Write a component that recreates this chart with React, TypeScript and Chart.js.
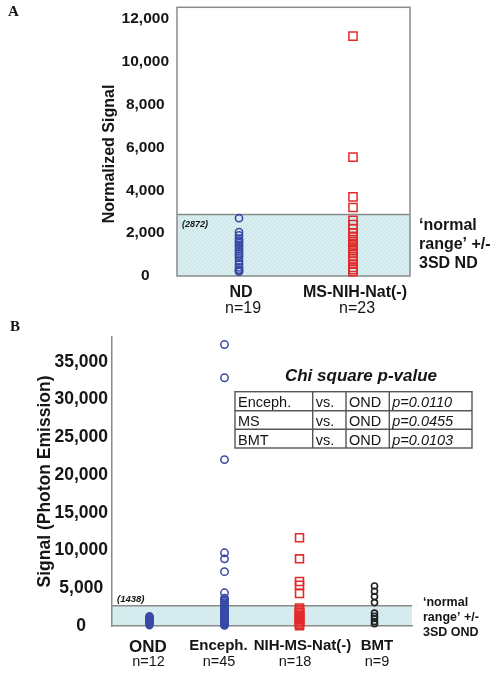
import React, { useEffect, useRef } from 'react';
import { Chart, registerables } from 'chart.js';

Chart.register(...registerables);

// ---------- data ----------
const CATEGORIES_A = ['ND', 'MS-NIH-Nat(-)'];
const N_LABELS_A = ['n=19', 'n=23'];
const ND_VALUES = [2700, 2050, 1900, 1750, 1650, 1550, 1450, 1350, 1250, 1150, 1050, 950, 850, 700, 550, 400, 300, 250, 200];
const MS_VALUES_A = [11200, 5550, 3700, 3200, 2600, 2400, 2200, 2000, 1850, 1700, 1600, 1500, 1400, 1300, 1200, 1050, 900, 800, 700, 550, 400, 300, 200];
const Y_TICKS_A = [0, 2000, 4000, 6000, 8000, 10000, 12000];
const Y_MAX_A = 12550;
const BAND_A = 2872;
const BAND_LABEL_A = '(2872)';
const RANGE_TEXT_A = ['\u2018normal', 'range\u2019 +/-', '3SD ND'];

const CATEGORIES_B = ['OND', 'Enceph.', 'NIH-MS-Nat(-)', 'BMT'];
const N_LABELS_B = ['n=12', 'n=45', 'n=18', 'n=9'];
const OND_VALUES = [1300, 1200, 1100, 1000, 900, 800, 700, 600, 500, 400, 250, 100];
const ENCEPH_VALUES = [37300, 32900, 22050, 9700, 8900, 7200, 4400,
  3700, 3500, 3300, 3100, 2900, 2700, 2500, 2400, 2300, 2200, 2100, 2000,
  1900, 1800, 1700, 1600, 1500, 1400, 1300, 1200, 1100, 1000, 950, 900,
  850, 800, 700, 600, 550, 500, 450, 400, 350, 300, 250, 200, 150, 100];
const MS_VALUES_B = [11700, 8900, 5900, 5400, 4300, 2400, 2200, 2000, 1800, 1600, 1400, 1200, 1000, 800, 600, 400, 200, 50];
const BMT_VALUES = [5300, 4600, 3900, 3100, 1700, 1300, 1000, 600, 300];
const Y_TICKS_B = [0, 5000, 10000, 15000, 20000, 25000, 30000, 35000];
const Y_MAX_B = 38300;
const BAND_B = 2700;
const BAND_LABEL_B = '(1438)';
const RANGE_TEXT_B = ['\u2018normal', 'range\u2019 +/-', '3SD OND'];
const CHI_TITLE = 'Chi square p-value';
const CHI_ROWS = [
  ['Enceph.', 'vs.', 'OND', 'p=0.0110'],
  ['MS', 'vs.', 'OND', 'p=0.0455'],
  ['BMT', 'vs.', 'OND', 'p=0.0103'],
];

// ---------- style ----------
const SANS = '"Liberation Sans", Arial, Helvetica, sans-serif';
const SERIF = '"Liberation Serif", "Times New Roman", serif';
const INK = '#151515';
const GRAY = '#8a8a8a';
const BLUE = '#3a4aa6';
const RED = '#e22a2a';
const DARK = '#222222';
// small horizontal nudges of the category captions (px)
const NAME_SHIFT_B = [-1.5, -6, 3, 2.5];
const N_SHIFT_B = [-1, -5.5, -4.5, 2.5];

function fmt(v: number) {
  return String(v).replace(/\B(?=(\d{3})+(?!\d))/g, ',');
}

function bandFill(ctx: CanvasRenderingContext2D): any {
  const c = document.createElement('canvas');
  c.width = 4;
  c.height = 4;
  const g = c.getContext('2d')!;
  g.fillStyle = '#d8eef0';
  g.fillRect(0, 0, 4, 4);
  g.strokeStyle = '#c9e4e7';
  g.lineWidth = 1;
  g.beginPath();
  g.moveTo(0, 4);
  g.lineTo(4, 0);
  g.stroke();
  return ctx.createPattern(c, 'repeat') || '#d8eef0';
}

function txt(ctx: CanvasRenderingContext2D, s: string, x: number, y: number, font: string, align: CanvasTextAlign = 'left', color = INK) {
  ctx.font = font;
  ctx.fillStyle = color;
  ctx.textAlign = align;
  ctx.textBaseline = 'alphabetic';
  ctx.fillText(s, x, y);
}

function vtxt(ctx: CanvasRenderingContext2D, s: string, x: number, y: number, font: string) {
  ctx.save();
  ctx.translate(x, y);
  ctx.rotate(-Math.PI / 2);
  txt(ctx, s, 0, 0, font, 'center');
  ctx.restore();
}

// ---------- plugins ----------
const panelAPlugin = {
  id: 'panelA',
  beforeDraw(chart: any) {
    const { ctx, chartArea: ca, scales } = chart;
    const top = scales.y.getPixelForValue(BAND_A);
    const bot = scales.y.getPixelForValue(0);
    ctx.save();
    ctx.fillStyle = bandFill(ctx);
    ctx.fillRect(ca.left, top, ca.right - ca.left, bot - top);
    ctx.strokeStyle = GRAY;
    ctx.lineWidth = 1.5;
    ctx.beginPath();
    ctx.moveTo(ca.left, top);
    ctx.lineTo(ca.right, top);
    ctx.stroke();
    ctx.strokeRect(ca.left, ca.top, ca.right - ca.left, ca.bottom - ca.top);
    ctx.restore();
  },
  afterDraw(chart: any) {
    const { ctx, chartArea: ca, scales } = chart;
    ctx.save();
    txt(ctx, 'A', 8, 16, `bold 15px ${SERIF}`);
    vtxt(ctx, 'Normalized Signal', 113.5, 154, `bold 16px ${SANS}`);
    const top = scales.y.getPixelForValue(BAND_A);
    txt(ctx, BAND_LABEL_A, ca.left + 5, top + 12, `italic bold 9px ${SANS}`);
    RANGE_TEXT_A.forEach((s, i) => txt(ctx, s, ca.right + 9, top + 15 + i * 19.4, `bold 16px ${SANS}`));
    CATEGORIES_A.forEach((c, i) => {
      const x = scales.x.getPixelForValue(i);
      txt(ctx, c, x + 2, ca.bottom + 21, `bold 16px ${SANS}`, 'center');
      txt(ctx, N_LABELS_A[i], x + 4, ca.bottom + 36.5, `16px ${SANS}`, 'center');
    });
    ctx.restore();
  },
};

const panelBPlugin = {
  id: 'panelB',
  beforeDraw(chart: any) {
    const { ctx, chartArea: ca, scales } = chart;
    const top = scales.y.getPixelForValue(BAND_B);
    const bot = scales.y.getPixelForValue(0);
    ctx.save();
    ctx.fillStyle = bandFill(ctx);
    ctx.fillRect(ca.left, top, ca.right - ca.left, bot - top);
    ctx.strokeStyle = GRAY;
    ctx.lineWidth = 1.5;
    ctx.beginPath();
    ctx.moveTo(ca.left, top);
    ctx.lineTo(ca.right, top);
    ctx.stroke();
    ctx.restore();
  },
  afterDraw(chart: any) {
    const { ctx, chartArea: ca, scales } = chart;
    ctx.save();
    txt(ctx, 'B', 10, 13, `bold 15px ${SERIF}`);
    vtxt(ctx, 'Signal (Photon Emission)', 50, (ca.top + ca.bottom) / 2, `bold 17.5px ${SANS}`);
    const top = scales.y.getPixelForValue(BAND_B);
    txt(ctx, BAND_LABEL_B, ca.left + 5, top - 3.5, `italic bold 9.5px ${SANS}`);
    RANGE_TEXT_B.forEach((s, i) => txt(ctx, s, ca.right + 11, top + 0.5 + i * 15, `bold 12.5px ${SANS}`));
    CATEGORIES_B.forEach((c, i) => {
      const x = scales.x.getPixelForValue(i);
      if (i === 0) txt(ctx, c, x + NAME_SHIFT_B[i], ca.bottom + 26, `bold 17px ${SANS}`, 'center');
      else txt(ctx, c, x + NAME_SHIFT_B[i], ca.bottom + 23.5, `bold 15px ${SANS}`, 'center');
      txt(ctx, N_LABELS_B[i], x + N_SHIFT_B[i], ca.bottom + 39.5, `14.5px ${SANS}`, 'center');
    });

    // chi-square table
    txt(ctx, CHI_TITLE, 361, 63, `italic bold 17px ${SANS}`, 'center');
    const colX = [235, 312.7, 346, 389.3, 472];
    const rowY = [73.7, 92.7, 111.3, 130];
    ctx.strokeStyle = '#555555';
    ctx.lineWidth = 1.4;
    ctx.strokeRect(colX[0], rowY[0], colX[4] - colX[0], rowY[3] - rowY[0]);
    ctx.beginPath();
    for (let i = 1; i < 4; i++) {
      ctx.moveTo(colX[i], rowY[0]);
      ctx.lineTo(colX[i], rowY[3]);
    }
    for (let j = 1; j < 3; j++) {
      ctx.moveTo(colX[0], rowY[j]);
      ctx.lineTo(colX[4], rowY[j]);
    }
    ctx.stroke();
    CHI_ROWS.forEach((row, j) => {
      row.forEach((cell, k) => {
        const f = k === 3 ? `italic 14.5px ${SANS}` : `14.5px ${SANS}`;
        txt(ctx, cell, colX[k] + 3, rowY[j] + 15.6, f);
      });
    });
    ctx.restore();
  },
};

function pointSet(values: number[], idx: number, style: string, color: string, radius: number, width: number) {
  return {
    data: values.map((v) => ({ x: idx, y: v })),
    pointStyle: style,
    pointRadius: radius,
    pointBorderWidth: width,
    borderColor: color,
    backgroundColor: 'rgba(0,0,0,0)',
    borderWidth: width,
    clip: false,
  };
}

function yTicks(values: number[], size: number, pad: number) {
  return {
    afterBuildTicks: (s: any) => {
      s.ticks = values.map((v) => ({ value: v }));
    },
    grid: { display: false, drawTicks: false },
    ticks: {
      crossAlign: 'center',
      padding: pad,
      color: INK,
      font: { family: SANS, size, weight: 'bold' },
      callback: (v: any) => fmt(Number(v)),
    },
  };
}

export default function App() {
  const refA = useRef<HTMLCanvasElement>(null);
  const refB = useRef<HTMLCanvasElement>(null);

  useEffect(() => {
    const chartA = new Chart(refA.current!, {
      type: 'scatter',
      data: {
        datasets: [
          pointSet(ND_VALUES, 0, 'circle', BLUE, 3.6, 1.6),
          pointSet(MS_VALUES_A, 1, 'rect', RED, 5.8, 1.5),
        ] as any,
      },
      options: {
        animation: false,
        responsive: false,
        events: [],
        layout: { padding: { left: 0, right: 88, top: 3, bottom: 0 } },
        plugins: { legend: { display: false }, tooltip: { enabled: false } },
        scales: {
          x: {
            type: 'linear',
            min: -0.544,
            max: 1.5,
            grid: { display: false },
            border: { display: false },
            ticks: { display: false },
            afterFit: (s: any) => {
              s.height = 42;
              s.paddingLeft = 0;
              s.paddingRight = 0;
            },
          },
          y: {
            type: 'linear',
            min: 0,
            max: Y_MAX_A,
            border: { display: false },
            ...yTicks(Y_TICKS_A, 15.5, 8),
            afterFit: (s: any) => {
              s.width = 177;
              s.paddingTop = 0;
              s.paddingBottom = 0;
            },
          },
        },
      } as any,
      plugins: [panelAPlugin],
    });

    const chartB = new Chart(refB.current!, {
      type: 'scatter',
      data: {
        datasets: [
          pointSet(OND_VALUES, 0, 'circle', BLUE, 3.4, 1.6),
          pointSet(ENCEPH_VALUES, 1, 'circle', BLUE, 3.7, 1.5),
          pointSet(MS_VALUES_B, 2, 'rect', RED, 5.6, 1.6),
          pointSet(BMT_VALUES, 3, 'circle', DARK, 3, 1.6),
        ] as any,
      },
      options: {
        animation: false,
        responsive: false,
        events: [],
        layout: { padding: { left: 0, right: 86, top: 19, bottom: 0 } },
        plugins: { legend: { display: false }, tooltip: { enabled: false } },
        scales: {
          x: {
            type: 'linear',
            min: -0.5,
            max: 3.5,
            grid: { display: false },
            border: { display: true, color: GRAY, width: 1.5 },
            ticks: { display: false },
            afterFit: (s: any) => {
              s.height = 47;
              s.paddingLeft = 0;
              s.paddingRight = 0;
            },
          },
          y: {
            type: 'linear',
            min: 0,
            max: Y_MAX_B,
            border: { display: true, color: GRAY, width: 1.5 },
            ...yTicks(Y_TICKS_B, 17.5, 4),
            afterFit: (s: any) => {
              s.width = 112;
              s.paddingTop = 0;
              s.paddingBottom = 0;
            },
          },
        },
      } as any,
      plugins: [panelBPlugin],
    });

    return () => {
      chartA.destroy();
      chartB.destroy();
    };
  }, []);

  return (
    <div style={{ position: 'absolute', left: 0, top: 0, width: 498, height: 673, background: '#ffffff' }}>
      <canvas ref={refA} width={498} height={318} style={{ position: 'absolute', left: 0, top: 0, width: 498, height: 318 }} />
      <canvas ref={refB} width={498} height={355} style={{ position: 'absolute', left: 0, top: 318, width: 498, height: 355 }} />
    </div>
  );
}
